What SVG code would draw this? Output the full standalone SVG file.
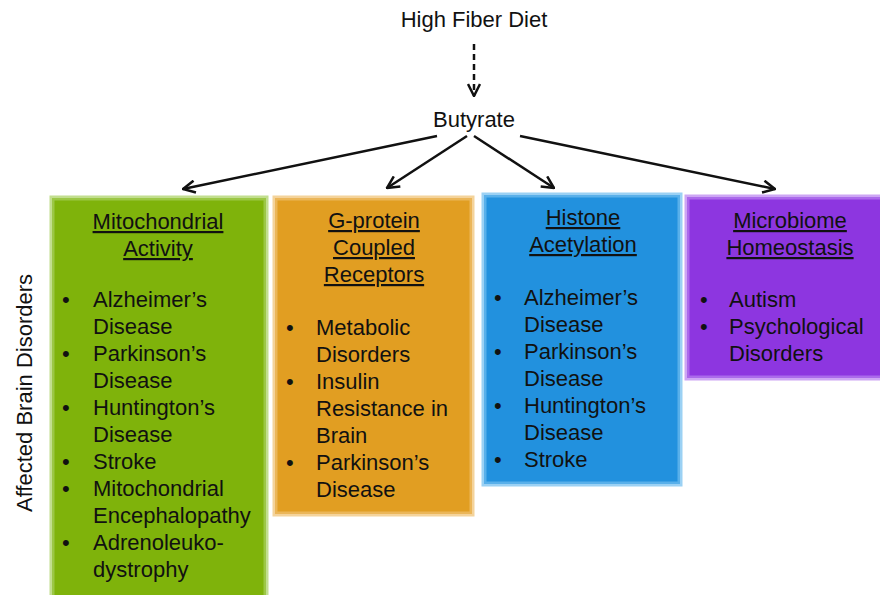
<svg xmlns="http://www.w3.org/2000/svg" width="880" height="595" viewBox="0 0 880 595">
<style>
text{font-family:"Liberation Sans",Arial,sans-serif;font-size:22px;fill:#111}
.t{text-anchor:middle;text-decoration:underline}
.c{text-anchor:middle}
.ln{stroke:#111;stroke-width:2.5;fill:none}
</style>
<defs>
<marker id="ah" viewBox="0 0 14 14" refX="13" refY="7" markerWidth="14" markerHeight="14" markerUnits="userSpaceOnUse" orient="auto">
<path d="M1,1 L13,7 L1,13" fill="none" stroke="#111" stroke-width="2.5"/>
</marker>
</defs>
<rect width="880" height="595" fill="#fff"/>
<text class="c" x="474" y="27">High Fiber Diet</text>
<text class="c" x="474" y="127">Butyrate</text>
<text x="0" y="0" class="c" transform="translate(32,393) rotate(-90)">Affected Brain Disorders</text>
<g id="connectors">
<line class="ln" x1="474" y1="44" x2="474" y2="96" stroke-dasharray="6,4" marker-end="url(#ah)"/>
<line class="ln" x1="437" y1="136" x2="183" y2="189" marker-end="url(#ah)"/>
<line class="ln" x1="467" y1="136" x2="387" y2="188" marker-end="url(#ah)"/>
<line class="ln" x1="474" y1="136" x2="554" y2="188" marker-end="url(#ah)"/>
<line class="ln" x1="520" y1="136" x2="775" y2="189" marker-end="url(#ah)"/>
</g>
<g id="mito">
<rect x="52" y="198" width="214" height="400" fill="#7fb30b" stroke="#a8d060" stroke-opacity="0.7" stroke-width="5"/>
<text class="t" x="158" y="229">Mitochondrial</text>
<text class="t" x="158" y="256">Activity</text>
<text x="62" y="307">•</text><text x="93" y="307">Alzheimer’s</text>
<text x="93" y="334">Disease</text>
<text x="62" y="361">•</text><text x="93" y="361">Parkinson’s</text>
<text x="93" y="388">Disease</text>
<text x="62" y="415">•</text><text x="93" y="415">Huntington’s</text>
<text x="93" y="442">Disease</text>
<text x="62" y="469">•</text><text x="93" y="469">Stroke</text>
<text x="62" y="496">•</text><text x="93" y="496">Mitochondrial</text>
<text x="93" y="523">Encephalopathy</text>
<text x="62" y="550">•</text><text x="93" y="550">Adrenoleuko-</text>
<text x="93" y="577">dystrophy</text>
</g>
<g id="gpcr">
<rect x="275" y="198" width="197" height="316" fill="#e19e22" stroke="#f0c070" stroke-opacity="0.7" stroke-width="5"/>
<text class="t" x="374" y="228">G-protein</text>
<text class="t" x="374" y="255">Coupled</text>
<text class="t" x="374" y="282">Receptors</text>
<text x="286" y="335">•</text><text x="316" y="335">Metabolic</text>
<text x="316" y="362">Disorders</text>
<text x="286" y="389">•</text><text x="316" y="389">Insulin</text>
<text x="316" y="416">Resistance in</text>
<text x="316" y="443">Brain</text>
<text x="286" y="470">•</text><text x="316" y="470">Parkinson’s</text>
<text x="316" y="497">Disease</text>
</g>
<g id="histone">
<rect x="484" y="195" width="196" height="289" fill="#2291de" stroke="#70bdf0" stroke-opacity="0.7" stroke-width="5"/>
<text class="t" x="583" y="225">Histone</text>
<text class="t" x="583" y="252">Acetylation</text>
<text x="494" y="305">•</text><text x="524" y="305">Alzheimer’s</text>
<text x="524" y="332">Disease</text>
<text x="494" y="359">•</text><text x="524" y="359">Parkinson’s</text>
<text x="524" y="386">Disease</text>
<text x="494" y="413">•</text><text x="524" y="413">Huntington’s</text>
<text x="524" y="440">Disease</text>
<text x="494" y="467">•</text><text x="524" y="467">Stroke</text>
</g>
<g id="microbiome">
<rect x="687" y="197" width="200" height="181" fill="#8d36e0" stroke="#b880f0" stroke-opacity="0.7" stroke-width="5"/>
<text class="t" x="790" y="228">Microbiome</text>
<text class="t" x="790" y="255">Homeostasis</text>
<text x="700" y="307">•</text><text x="729" y="307">Autism</text>
<text x="700" y="334">•</text><text x="729" y="334">Psychological</text>
<text x="729" y="361">Disorders</text>
</g>
</svg>
